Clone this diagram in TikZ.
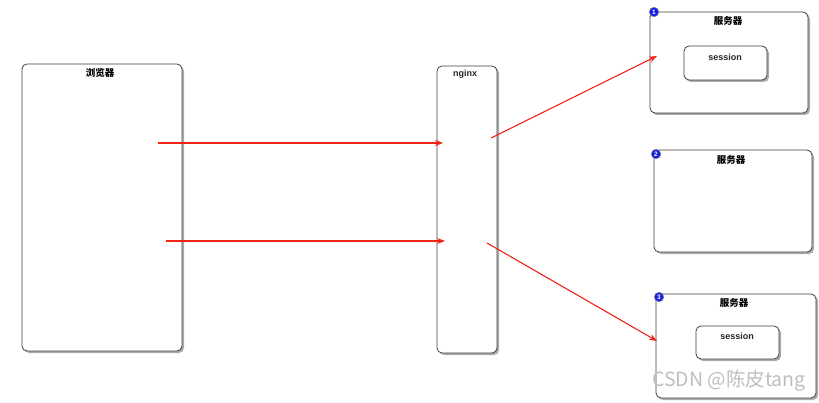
\documentclass[tikz,border=0pt]{standalone}
\usepackage{fontspec}
\setmainfont{Liberation Sans}
\newfontfamily\cjk{Noto Sans CJK SC}
\usetikzlibrary{shadows,arrows.meta}
\definecolor{arrowred}{RGB}{240,35,20}
\definecolor{badgeblue}{RGB}{20,30,230}
\tikzset{
  box/.style={draw=black!75, fill=white, rounded corners=5pt, line width=0.8pt,
    drop shadow={shadow xshift=2pt, shadow yshift=-2pt, opacity=0.55, fill=black!60}},
  title/.style={font=\cjk\fontsize{9.5}{10}\selectfont\bfseries, anchor=center},
  ltitle/.style={font=\fontsize{9}{10}\selectfont\bfseries, text=black!85, anchor=center},
  badge/.style={circle, draw=black!50, fill=badgeblue, line width=0.5pt, inner sep=0pt,
    minimum size=9.5pt, text=white, font=\fontsize{6.5}{6.5}\selectfont\bfseries},
  conn/.style={draw=arrowred, line width=1.1pt, -{Stealth[length=8pt,width=6pt]}}
}
\begin{document}
\begin{tikzpicture}[x=1pt,y=1pt]
\useasboundingbox (0,0) rectangle (819,402);
% browser
\draw[box] (22,51) rectangle (182,338);
\node[title] (tb) at (100,329) {浏览器};
% nginx
\draw[box] (437,49) rectangle (497,336);
\node[ltitle] (tn) at (465,328) {nginx};
% server 1
\draw[box] (650,289) rectangle (808,390);
\node[title] (t1) at (728,381) {服务器};
\draw[box] (684,322) rectangle (767,356);
\node[ltitle] (s1) at (725,345) {session};
\node[badge] (b1) at (654,390) {1};
% server 2
\draw[box] (654,150) rectangle (812,252);
\node[title] (t2) at (731,242) {服务器};
\node[badge] (b2) at (656,248) {2};
% server 3
\draw[box] (656,4) rectangle (816,108);
\node[title] (t3) at (734,99) {服务器};
\draw[box] (696,43) rectangle (779,76);
\node[ltitle] (s3) at (737,66) {session};
\node[badge] (b3) at (659,105) {3};
% arrows
\coordinate (a1s) at (158,259); \coordinate (a1e) at (443,259);
\coordinate (a2s) at (166,161); \coordinate (a2e) at (445,161);
\coordinate (a3s) at (491,264); \coordinate (a3e) at (657,346);
\coordinate (a4s) at (487,159); \coordinate (a4e) at (657,61);
\draw[conn] (a1s) -- (a1e);
\draw[conn] (a2s) -- (a2e);
\draw[conn] (a3s) -- (a3e);
\draw[conn] (a4s) -- (a4e);
% watermark
\node[font=\cjk\fontsize{19.5}{20}\selectfont, text=black!25, anchor=center] (wm) at (729,21) {CSDN @陈皮tang};
\end{tikzpicture}
\end{document}
